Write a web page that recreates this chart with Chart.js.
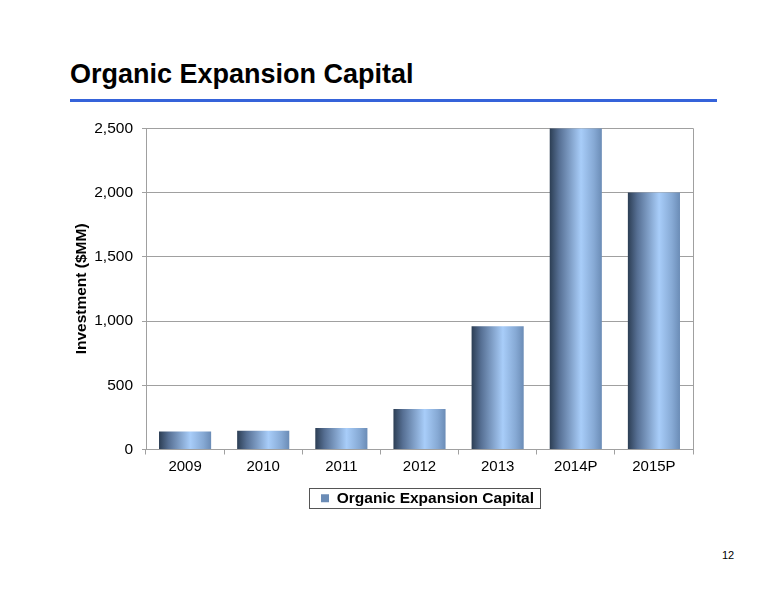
<!DOCTYPE html>
<html>
<head>
<meta charset="utf-8">
<script src="https://cdn.jsdelivr.net/npm/chart.js@4"></script>
<style>
  body { margin: 0; background: #fff; font-family: "Liberation Sans", Arial, sans-serif; }
  #page { position: relative; width: 776px; height: 600px; overflow: hidden; }
  #title { position: absolute; left: 70px; top: 59px; font-size: 27px; font-weight: bold; color: #000; }
  #rule { position: absolute; left: 70px; top: 99px; width: 647px; height: 3px; background: #3563da; }
  #pageNo { position: absolute; left: 722px; top: 549px; font-size: 11px; color: #000; }
  #wrap { position: absolute; left: 0; top: 110px; width: 776px; height: 430px; }
</style>
</head>
<body>
<div id="page">
  <div id="title">Organic Expansion Capital</div>
  <div id="rule"></div>
  <div id="wrap"><canvas id="capitalChart"></canvas></div>
  <div id="pageNo">12</div>
</div>
<script>
const years = ['2009', '2010', '2011', '2012', '2013', '2014P', '2015P'];
const capital = [140, 145, 168, 316, 960, 2500, 2000];
const yTicks = [0, 500, 1000, 1500, 2000, 2500];

const BAR_FRACTION = 0.667;
const LEGEND_SHIFT = 48;   // legend sits centred under the plot, not the canvas

// horizontal shading across each bar, like the original's cylinder look
function barGradient(c) {
    const chart = c.chart;
    const area = chart.chartArea;
    if (!area || c.type !== 'data') return '#8db3e2';
    const cx = chart.scales.x.getPixelForValue(c.dataIndex);
    const w = (area.right - area.left) / years.length * BAR_FRACTION;
    const g = chart.ctx.createLinearGradient(cx - w / 2, 0, cx + w / 2, 0);
    g.addColorStop(0, '#2c3e54');
    g.addColorStop(0.18, '#566f93');
    g.addColorStop(0.6, '#a8cdf9');
    g.addColorStop(0.85, '#86a9d4');
    g.addColorStop(1, '#6b8cb6');
    return g;
}

// right edge of plot area and the box round the legend
const framePlugin = {
    id: 'frame',
    afterLayout(chart) {
        chart.legend.left += LEGEND_SHIFT;
        chart.legend.right += LEGEND_SHIFT;
    },
    afterDraw(chart) {
        const ctx = chart.ctx;
        const a = chart.chartArea;
        ctx.save();
        ctx.strokeStyle = '#a0a0a0';
        ctx.lineWidth = 1;
        ctx.beginPath();
        ctx.moveTo(Math.round(a.right) + 0.5, a.top);
        ctx.lineTo(Math.round(a.right) + 0.5, a.bottom);
        ctx.stroke();

        const hb = chart.legend.legendHitBoxes[0];
        if (hb) {
            const cy = hb.top + hb.height / 2;
            ctx.strokeStyle = '#555';
            ctx.strokeRect(Math.round(hb.left - 12) + 0.5, Math.round(cy - 10) + 0.5,
                Math.round(hb.width + 18), 20);
        }
        ctx.restore();
    }
};

new Chart(document.getElementById('capitalChart'), {
    type: 'bar',
    data: {
        labels: years,
        datasets: [{
            label: 'Organic Expansion Capital',
            data: capital,
            backgroundColor: barGradient,
            borderWidth: 0,
            categoryPercentage: 1,
            barPercentage: BAR_FRACTION
        }]
    },
    options: {
        responsive: true,
        maintainAspectRatio: false,
        animation: false,
        layout: { padding: { left: 66, right: 83, top: 17, bottom: 24 } },
        plugins: {
            tooltip: { enabled: false },
            legend: {
                position: 'bottom',
                labels: {
                    boxWidth: 8,
                    boxHeight: 8,
                    padding: 12,
                    color: '#000',
                    font: { family: 'Liberation Sans, Arial, sans-serif', size: 15.5, weight: 'bold' }
                }
            }
        },
        scales: {
            x: {
                offset: true,
                grid: { drawOnChartArea: false, drawTicks: true, tickLength: 5, color: '#a0a0a0', offset: true },
                border: { color: '#a0a0a0' },
                ticks: {
                    color: '#000',
                    padding: 3,
                    font: { family: 'Liberation Sans, Arial, sans-serif', size: 15 }
                }
            },
            y: {
                min: 0,
                max: 2500,
                afterBuildTicks(scale) {
                    scale.ticks = yTicks.map(v => ({ value: v }));
                },
                afterFit(scale) {
                    scale.width = 80;
                },
                grid: { color: '#a0a0a0', tickLength: 4 },
                border: { color: '#a0a0a0' },
                ticks: {
                    color: '#000',
                    padding: 9,
                    font: { family: 'Liberation Sans, Arial, sans-serif', size: 15.5 },
                    callback: v => v.toLocaleString('en-US')
                },
                title: {
                    display: true,
                    text: 'Investment ($MM)',
                    color: '#000',
                    padding: { top: 6, bottom: 4 },
                    font: { family: 'Liberation Sans, Arial, sans-serif', size: 15.5, weight: 'bold' }
                }
            }
        }
    },
    plugins: [framePlugin]
});
</script>
</body>
</html>
